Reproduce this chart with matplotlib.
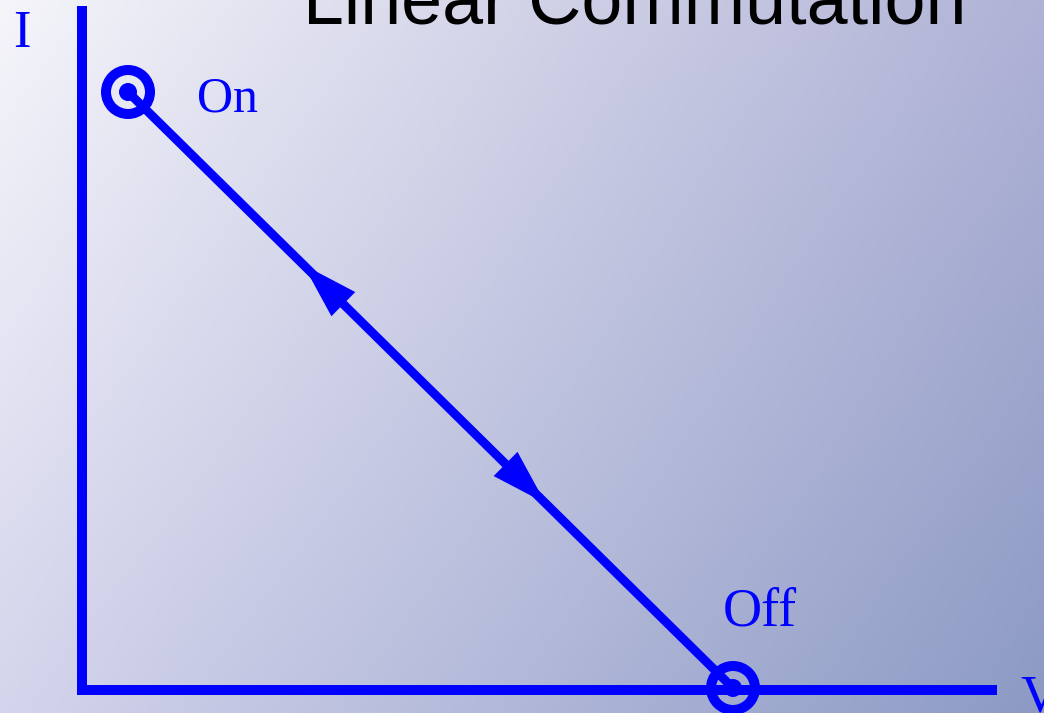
import numpy as np
import matplotlib
matplotlib.use("Agg")
import matplotlib.pyplot as plt
from matplotlib.patches import Circle, Polygon

# ---- data (schematic units; origin at the axes corner) ----
axis_v_end = 915          # length of V axis
axis_i_end = 684          # length of I axis
on_point = (46, 598)      # (V, I) of "On" state
off_point = (651, 2)      # (V, I) of "Off" state
arrow_fracs = [0.29, 0.69]     # arrow tip positions along the path
arrow_dirs = [-1, 1]           # -1: toward On, +1: toward Off
labels = {"I": (-69, 643), "On": (115, 578), "Off": (641, 65), "V": (938, -21)}
label_sizes = {"I": 38, "On": 36, "Off": 39, "V": 38}
title = "Linear Commutation"

BLUE = (0, 0, 1)

fig = plt.figure(figsize=(10.44, 7.13), dpi=100)
ax = fig.add_axes([0, 0, 1, 1])
ax.set_xlim(-82, 962)
ax.set_ylim(-23, 690)
ax.set_aspect("auto")
ax.axis("off")

# background gradient
tl = np.array([245, 245, 250]) / 255
tr = np.array([176, 178, 214]) / 255
bl = np.array([212, 212, 236]) / 255
br = np.array([140, 154, 196]) / 255
ny, nx = 200, 300
u = np.linspace(0, 1, nx)[None, :, None]
v = np.linspace(0, 1, ny)[:, None, None]
img = (1 - u) * (1 - v) * tl + u * (1 - v) * tr + (1 - u) * v * bl + u * v * br
ax.imshow(img, extent=(-82, 962, -23, 690), origin="upper", aspect="auto",
          zorder=0, interpolation="bicubic")

# axes
ax.plot([0, 0, axis_v_end], [axis_i_end, 0, 0], color=BLUE, lw=7.2,
        solid_joinstyle="miter", solid_capstyle="butt", zorder=2)

# path line
ax.plot([on_point[0], off_point[0]], [on_point[1], off_point[1]], color=BLUE,
        lw=6.4, solid_capstyle="butt", zorder=3)

# arrow heads
p0 = np.array(on_point, float)
p1 = np.array(off_point, float)
d = p1 - p0
L = np.hypot(*d)
ud = d / L
perp = np.array([-ud[1], ud[0]])
head_len, head_w = 56, 34
for f, s in zip(arrow_fracs, arrow_dirs):
    tip = p0 + d * f
    back = tip - s * ud * head_len
    pts = [tip, back + perp * head_w / 2, back - perp * head_w / 2]
    ax.add_patch(Polygon(pts, closed=True, color=BLUE, zorder=4, lw=0))

# state circles
for pt in (on_point, off_point):
    ax.add_patch(Circle(pt, 22, fill=False, ec=BLUE, lw=7.2, zorder=5))
    ax.add_patch(Circle(pt, 9, color=BLUE, zorder=5, lw=0))

# labels
serif = ["Liberation Serif", "DejaVu Serif"]
for txt, (x, y) in labels.items():
    ax.text(x, y, txt, color=BLUE, fontsize=label_sizes[txt], family=serif,
            ha="left", va="baseline", zorder=6)

ax.text(553, 667, title, color="black", fontsize=53,
        family=["Liberation Sans", "DejaVu Sans"], ha="center", va="baseline",
        zorder=6)

fig.savefig("out.png", dpi=100)
